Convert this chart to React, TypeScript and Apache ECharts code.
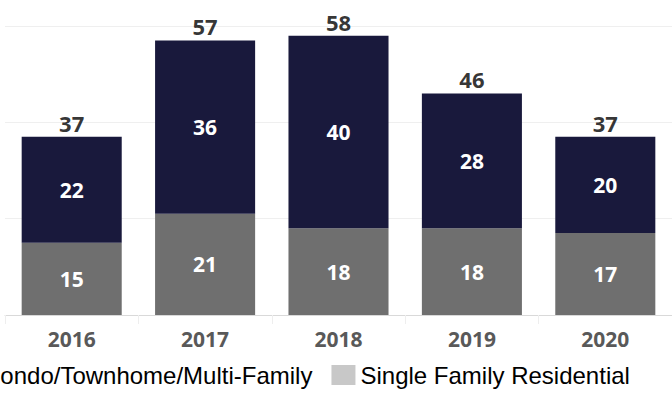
import React, { useEffect, useRef } from "react";
import * as echarts from "echarts";

const categories = ["2016", "2017", "2018", "2019", "2020"];
const condo = [22, 36, 40, 28, 20];
const singleFamily = [15, 21, 18, 18, 17];
const totals = [37, 57, 58, 46, 37];
const yTicks = { min: 0, max: 60, interval: 20 };

const NAVY = "#19193c";
const GRAY = "#6f6f6f";
const FONT = "Open Sans";

export default function App() {
  const ref = useRef<HTMLDivElement>(null);
  useEffect(() => {
    if (!ref.current) return;
    const chart = echarts.init(ref.current, null, { renderer: "svg" });
    chart.setOption({
      animation: false,
      grid: { left: 5, right: -2, top: 26, bottom: 85, containLabel: false },
      legend: {
        top: 358,
        left: -51,
        itemWidth: 24,
        itemHeight: 20,
        itemGap: 19,
        icon: "rect",
        textStyle: { fontFamily: "Liberation Sans", fontSize: 24, color: "#000" },
        data: [
          { name: "Condo/Townhome/Multi-Family", itemStyle: { color: NAVY } },
          { name: "Single Family Residential", itemStyle: { color: "#c8c8c8" } },
        ],
      },
      xAxis: {
        type: "category",
        data: categories,
        axisLine: { lineStyle: { color: "#d9d9d9", width: 1 } },
        axisTick: { show: true, length: 9, lineStyle: { color: "#eeeeee" } },
        axisLabel: {
          fontFamily: FONT,
          fontWeight: "bold",
          fontSize: 21,
          color: "#595959",
          margin: 13,
        },
      },
      yAxis: {
        type: "value",
        min: yTicks.min,
        max: yTicks.max,
        interval: yTicks.interval,
        axisLabel: { show: false },
        axisLine: { show: false },
        axisTick: { show: false },
        splitLine: { lineStyle: { color: "#efefef", width: 1 } },
      },
      series: [
        {
          name: "Single Family Residential",
          type: "bar",
          stack: "a",
          data: singleFamily,
          barWidth: "75%",
          itemStyle: { color: GRAY },
          label: {
            show: true,
            position: "inside",
            color: "#fff",
            fontFamily: FONT,
            fontWeight: "bold",
            fontSize: 21,
          },
        },
        {
          name: "Condo/Townhome/Multi-Family",
          type: "bar",
          stack: "a",
          data: condo,
          barWidth: "75%",
          itemStyle: { color: NAVY },
          label: {
            show: true,
            position: "inside",
            color: "#fff",
            fontFamily: FONT,
            fontWeight: "bold",
            fontSize: 21,
          },
        },
        {
          name: "total",
          type: "scatter",
          data: totals,
          symbolSize: 0,
          silent: true,
          label: {
            show: true,
            position: "top",
            distance: 3,
            color: "#000",
            fontFamily: FONT,
            fontWeight: "bold",
            fontSize: 22,
          },
        },
      ],
    });
    return () => chart.dispose();
  }, []);
  return (
    <div
      ref={ref}
      style={{ position: "absolute", left: 0, top: 0, width: 672, height: 400 }}
    />
  );
}
